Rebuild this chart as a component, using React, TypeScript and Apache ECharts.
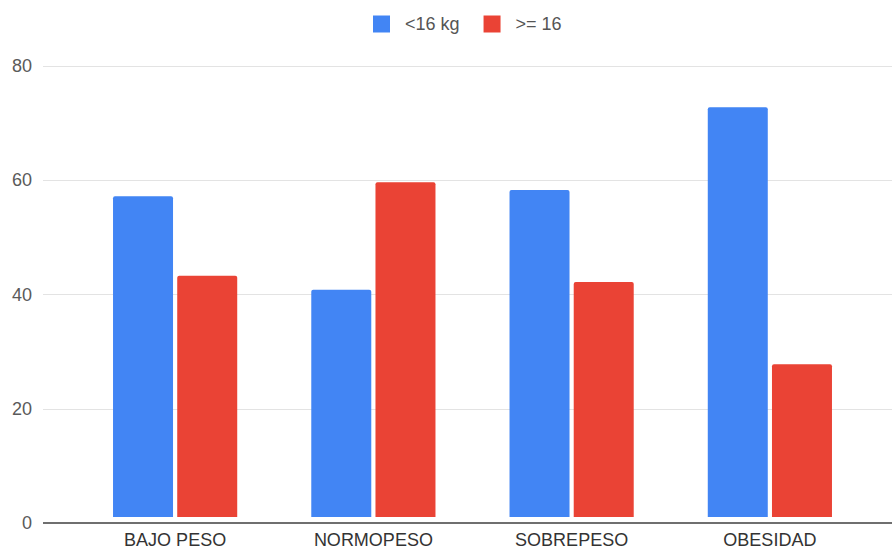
import React, { useEffect, useRef } from "react";
import * as echarts from "echarts";

const categories = ["BAJO PESO", "NORMOPESO", "SOBREPESO", "OBESIDAD"];
const seriesNames = ["<16 kg", ">= 16"];
const under16 = [56.9, 40.3, 58.0, 72.7];
const over16 = [42.8, 59.4, 41.7, 27.1];
const yTicks = [0, 20, 40, 60, 80];

const BLUE = "#4285F4";
const RED = "#EA4335";
const FONT = "Liberation Sans, Arial, sans-serif";

export default function App() {
  const ref = useRef<HTMLDivElement>(null);

  useEffect(() => {
    if (!ref.current) return;
    const chart = echarts.init(ref.current, null, { renderer: "svg" });
    const yMin = yTicks[0];
    const yMax = yTicks[yTicks.length - 1];
    const step = yTicks[1] - yTicks[0];

    chart.setOption({
      animation: false,
      backgroundColor: "#ffffff",
      textStyle: { fontFamily: FONT },
      legend: {
        data: seriesNames,
        left: 373,
        top: 15,
        padding: 0,
        icon: "rect",
        itemWidth: 17,
        itemHeight: 17,
        itemGap: 24,
        textStyle: { fontSize: 18, color: "#555", fontFamily: FONT, padding: [0, 0, 0, 10] },
      },
      grid: [
        // full-width grid carrying the value gridlines and baseline
        { left: 43, right: 0, top: 66, bottom: 26, containLabel: false },
        // inner grid carrying the bars
        { left: 76, right: 23, top: 66, bottom: 26, containLabel: false },
      ],
      xAxis: [
        {
          gridIndex: 0,
          type: "value",
          min: 0,
          max: 1,
          axisLabel: { show: false },
          axisTick: { show: false },
          splitLine: { show: false },
          axisLine: { show: false },
        },
        {
          gridIndex: 1,
          type: "category",
          data: categories,
          axisLine: { show: false },
          axisTick: { show: false },
          axisLabel: { fontSize: 18, color: "#333", margin: 14, fontFamily: FONT },
        },
      ],
      yAxis: [
        {
          gridIndex: 0,
          type: "value",
          min: yMin,
          max: yMax,
          interval: step,
          axisLine: { show: false },
          axisTick: { show: false },
          axisLabel: { fontSize: 18, color: "#5a5a5a", margin: 11, fontFamily: FONT },
          splitLine: { lineStyle: { color: "#e3e3e3", width: 1 } },
        },
        {
          gridIndex: 1,
          type: "value",
          min: yMin,
          max: yMax,
          interval: step,
          show: false,
          splitLine: { show: false },
        },
      ],
      series: [
        {
          name: seriesNames[0],
          type: "bar",
          xAxisIndex: 1,
          yAxisIndex: 1,
          data: under16,
          barWidth: 60,
          barGap: "7%",
          itemStyle: { color: BLUE, borderRadius: [2, 2, 0, 0] },
        },
        {
          name: seriesNames[1],
          type: "bar",
          xAxisIndex: 1,
          yAxisIndex: 1,
          data: over16,
          barWidth: 60,
          barGap: "7%",
          itemStyle: { color: RED, borderRadius: [2, 2, 0, 0] },
        },
        {
          // baseline at zero across the full chart width
          type: "line",
          xAxisIndex: 0,
          yAxisIndex: 0,
          data: [
            [0, 0],
            [1, 0],
          ],
          symbol: "none",
          silent: true,
          z: 5,
          lineStyle: { color: "#6f6f6f", width: 2 },
        },
      ],
    });

    return () => chart.dispose();
  }, []);

  return (
    <div
      ref={ref}
      style={{ position: "absolute", left: 0, top: 0, width: 892, height: 549 }}
    />
  );
}
